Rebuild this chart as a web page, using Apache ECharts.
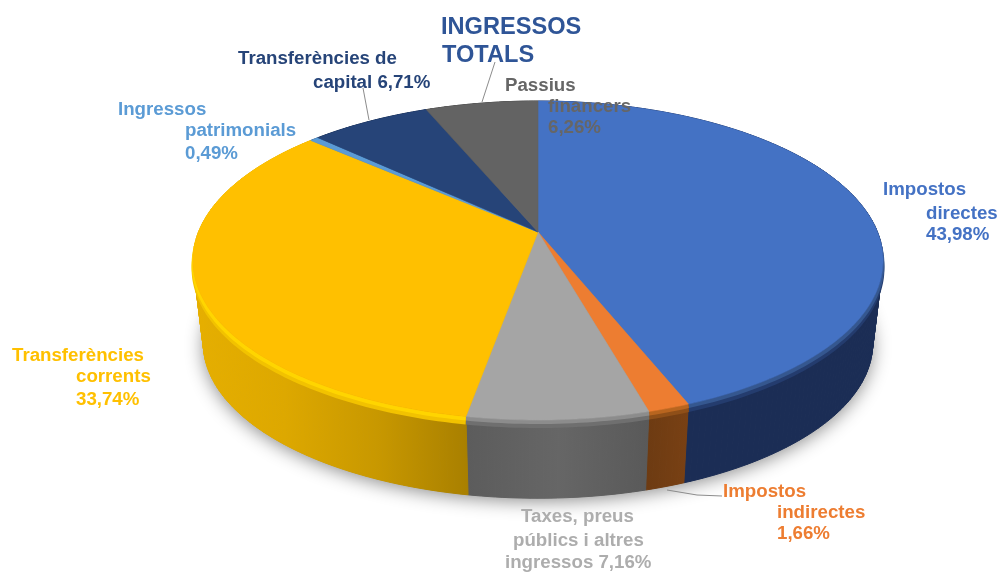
<!DOCTYPE html>
<html><head><meta charset="utf-8">
<style>html,body{margin:0;padding:0;background:#fff}#c{width:1000px;height:573px}</style>
<script src="https://cdn.jsdelivr.net/npm/echarts@6/dist/echarts.min.js"></script>
</head><body><div id="c"></div>
<script>
// ---- data ----
const categories = ['Impostos directes','Impostos indirectes','Taxes, preus públics i altres ingressos','Transferències corrents','Ingressos patrimonials','Transferències de capital','Passius financers'];
const shares = [43.98,1.66,7.16,33.74,0.49,6.71,6.26];
const titleLines = ['INGRESSOS','TOTALS'];
const labelLines = [
  ['Impostos','directes','43,98%'],
  ['Impostos','indirectes','1,66%'],
  ['Taxes, preus','públics i altres','ingressos 7,16%'],
  ['Transferències','corrents','33,74%'],
  ['Ingressos','patrimonials','0,49%'],
  ['Transferències de','capital 6,71%'],
  ['Passius','financers','6,26%']
];
// ---- styles & layout ----
const topColors = ['#4472C4','#ED7D31','#A5A5A5','#FFC000','#5B9BD5','#264478','#636363'];
const labelColors = ['#4472C4','#ED7D31','#ADADAD','#FFC000','#5B9BD5','#264478','#666666'];
const rimColors = ['#35578F','#B8651F','#8C8C8C','#FFD500','#3F6F9F','#1B3158','#4A4A4A'];
const rimOuterColors = ['#243C6E','#8F4F18','#6F6F6F','#F2C200','#35587F','#1B3158','#404040'];
const wallStops = [
  [192,884,['#1B2D55','#1B2D55']],
  [640,700,['#6B3A12','#7C4214']],
  [467,650,['#5C5C5C','#666666','#595959']],
  [192,470,['#E6AF00','#DDA800','#C89800','#A87F00']],
  [192,884,['#2C4A6C','#2C4A6C']],
  [192,884,['#16294A','#16294A']],
  [192,884,['#3C3C3C','#3C3C3C']]
];
const labelPos = [
  [[883,190],[926,214],[926,235]],
  [[723,492],[777,513],[777,534]],
  [[521,517],[513,541],[505,563]],
  [[12,356],[76,377],[76,400]],
  [[118,110],[185,131],[185,154]],
  [[238,59],[313,83]],
  [[505,86],[548,107],[548,128]]
];
const titlePos = [[441,27],[442,55]];
const leaders = [[[363,88],[369,120]],[[495,62],[482,102]],[[667,490],[697,495],[722,496]]];
// projection of a tilted disc seen in perspective
const CX=538, AY=232, KP=0.1787, AA=154.4, BB=339.5, EY=262, DY=83, SH=0.97;
function topPt(deg){
  const t=deg*Math.PI/180, x=Math.sin(t), y=Math.cos(t), w=1+KP*y;
  return [CX+BB*x/w, AY-AA*y/w];
}
function botPt(deg){
  const p=topPt(deg);
  return [CX+(p[0]-CX)*SH, EY+DY+(p[1]-EY)*SH];
}
const rimPt=(dy)=>(deg)=>{
  const p=topPt(deg);
  return [CX+(p[0]-CX)*1.004, p[1]+dy];
};
const total = shares.reduce((a,b)=>a+b,0);
function range(i){
  let s=0; for(let k=0;k<i;k++) s+=shares[k];
  return [s/total*360,(s+shares[i])/total*360];
}
function arc(a,b,fn){
  const n=Math.max(2,Math.ceil((b-a)/1)), r=[];
  for(let j=0;j<=n;j++) r.push(fn(a+(b-a)*j/n));
  return r;
}
function gradient(i){
  const w=wallStops[i], c=w[2];
  return {type:'linear',global:true,x:w[0],y:0,x2:w[1],y2:0,
    colorStops:c.map((col,k)=>({offset:k/(c.length-1),color:col}))};
}
const seriesData = categories.map((name,i)=>({name,value:shares[i]}));

function wallItem(params){
  const i=params.dataIndex,[a,b]=range(i),T=arc(a,b,topPt),B=arc(a,b,botPt),g=gradient(i),ch=[];
  if(i===0){
    ch.push({type:'polygon',shape:{points:arc(0,360,botPt)},
      style:{fill:'#888',shadowBlur:18,shadowColor:'rgba(0,0,0,0.45)',shadowOffsetY:3}});
  }
  for(let j=0;j<T.length-1;j++){
    ch.push({type:'polygon',shape:{points:[T[j],T[j+1],B[j+1],B[j]]},style:{fill:g,stroke:g,lineWidth:1}});
  }
  return {type:'group',children:ch};
}
function rimItem(params){
  const i=params.dataIndex,[a,b]=range(i),T=arc(a,b,topPt);
  return {type:'group',children:[
    {type:'polygon',shape:{points:T.concat(arc(a,b,rimPt(8)).reverse())},style:{fill:rimOuterColors[i]}},
    {type:'polygon',shape:{points:T.concat(arc(a,b,rimPt(4)).reverse())},style:{fill:rimColors[i]}}
  ]};
}
function topItem(params){
  const i=params.dataIndex,[a,b]=range(i);
  const pts=[[CX,AY]].concat(arc(a,b,topPt));
  return {type:'polygon',shape:{points:pts},style:{fill:topColors[i],stroke:topColors[i],lineWidth:0.6}};
}
const custom=(fn,z)=>({type:'custom',coordinateSystem:'none',renderItem:fn,data:seriesData,z,silent:true,animation:false,clip:false});

const graphics=[];
leaders.forEach(p=>graphics.push({type:'polyline',z:50,silent:true,shape:{points:p},style:{stroke:'#8c8c8c',lineWidth:1,fill:null}}));
labelLines.forEach((lines,i)=>lines.forEach((t,k)=>graphics.push({
  type:'text',z:60,silent:true,x:labelPos[i][k][0],y:labelPos[i][k][1],
  style:{text:t,fill:labelColors[i],font:'bold 18.7px "Liberation Sans"',textAlign:'left',textVerticalAlign:'middle'}
})));
titleLines.forEach((t,k)=>graphics.push({
  type:'text',z:60,silent:true,x:titlePos[k][0],y:titlePos[k][1],
  style:{text:t,fill:'#2F5597',font:'bold 23.6px "Liberation Sans"',textAlign:'left',textVerticalAlign:'middle'}
}));

const chart=echarts.init(document.getElementById('c'),null,{renderer:'canvas',width:1000,height:573});
chart.setOption({
  animation:false,
  backgroundColor:'#ffffff',
  series:[custom(wallItem,1),custom(rimItem,2),custom(topItem,3)],
  graphic:graphics
});
</script></body></html>
